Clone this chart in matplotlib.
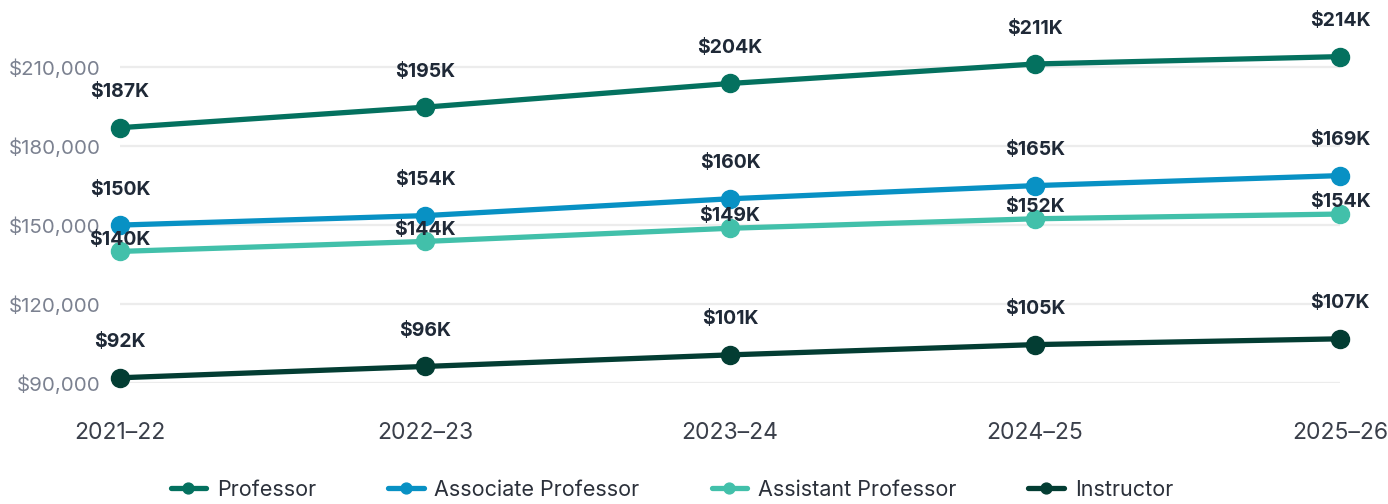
import matplotlib.pyplot as plt
from matplotlib.ticker import FuncFormatter

years = ["2021–22", "2022–23", "2023–24", "2024–25", "2025–26"]
professor = [187000, 194800, 203800, 211200, 214000]
associate = [150000, 153600, 160000, 165000, 168800]
assistant = [140000, 143800, 148800, 152400, 154200]
instructor = [92000, 96300, 100700, 104600, 106800]

# name, values, colour, label offset (points above the marker)
series = [
    ("Professor", professor, "#04715f", 19),
    ("Associate Professor", associate, "#0891c4", 19),
    ("Assistant Professor", assistant, "#42c0aa", 2),
    ("Instructor", instructor, "#033d33", 19),
]

plt.rcParams['font.family'] = ['Inter', 'DejaVu Sans']

fig = plt.figure(figsize=(13.88, 5.04), dpi=100)
ax = fig.add_axes([0.0865, 0.24, 0.879, 0.679])

x = list(range(len(years)))
for name, vals, color, off in series:
    ax.plot(x, vals, color=color, lw=3.8, marker='o', ms=13,
            label=name, clip_on=False, solid_capstyle='round', zorder=3)
    for xi, v in zip(x, vals):
        ax.annotate(f"${v / 1000:.0f}K", (xi, v), xytext=(0, off),
                    textcoords='offset points', ha='center', va='bottom',
                    fontsize=14, fontweight='bold', color='#1f2937',
                    zorder=5)

ax.set_xlim(0, 4)
ax.set_ylim(90000, 220000)
ax.set_yticks([90000, 120000, 150000, 180000, 210000])
ax.yaxis.set_major_formatter(FuncFormatter(lambda v, p: f"${v:,.0f}"))
ax.set_xticks(x)
ax.set_xticklabels(years)
ax.tick_params(axis='y', length=0, pad=14, labelsize=14.8, labelcolor='#7b8190')
ax.tick_params(axis='x', length=0, pad=28, labelsize=16.5, labelcolor='#3a3f4a')
ax.grid(axis='y', color='#ececec', lw=1.6)
ax.set_axisbelow(True)
for s in ax.spines.values():
    s.set_visible(False)

fig.legend(loc='lower center', ncol=4, bbox_to_anchor=(0.484, -0.03),
           frameon=False, fontsize=15.5, handlelength=1.65, columnspacing=3.35,
           labelcolor='#2b303a', markerscale=0.6, handletextpad=0.5)

fig.savefig("out.png", dpi=100)
